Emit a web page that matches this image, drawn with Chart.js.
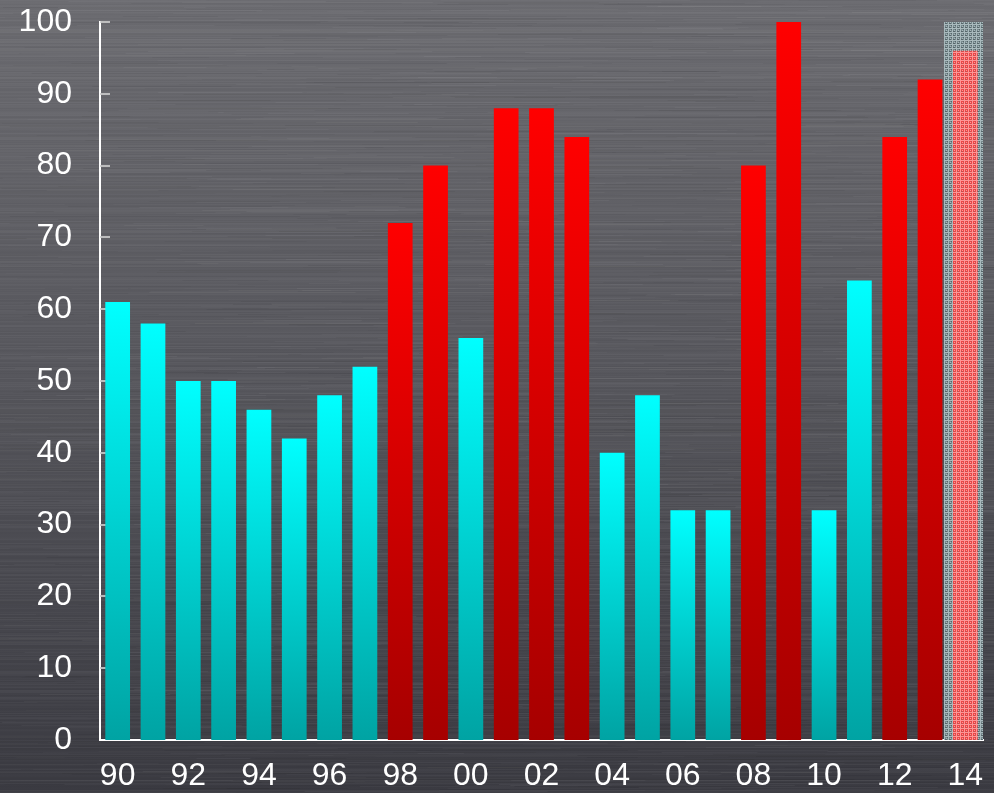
<!DOCTYPE html>
<html>
<head>
<meta charset="utf-8">
<style>
  html, body { margin: 0; padding: 0; background: #4a4a50; }
  #wrap { width: 994px; height: 793px; position: relative; }
</style>
<script src="https://cdn.jsdelivr.net/npm/chart.js@4/dist/chart.umd.min.js"></script>
</head>
<body>
<div id="wrap"><canvas id="chart"></canvas></div>
<script>
// Years 1990–2014 (two-digit labels)
const years = ['90','91','92','93','94','95','96','97','98','99',
               '00','01','02','03','04','05','06','07','08','09',
               '10','11','12','13','14'];
// Yearly index values
const values = [61, 58, 50, 50, 46, 42, 48, 52, 72, 80,
                56, 88, 88, 84, 40, 48, 32, 32, 80, 100,
                32, 64, 84, 92, 96];
// Years shown in red (high years)
const highYears = ['98','99','01','02','03','08','09','12','13'];
// Projected year, drawn with a shaded frame
const projectedYear = '14';
const projectedFrame = 100;
const yTicks = [0, 10, 20, 30, 40, 50, 60, 70, 80, 90, 100];

// Small canvas tiles used as fill patterns
function makePattern(base, light, dark) {
  const t = document.createElement('canvas');
  t.width = 4; t.height = 4;
  const c = t.getContext('2d');
  c.fillStyle = base; c.fillRect(0, 0, 4, 4);
  c.fillStyle = light;
  c.fillRect(0, 0, 4, 1);
  c.fillRect(0, 0, 1, 4);
  c.fillRect(2, 2, 1, 1);
  c.fillStyle = dark;
  c.fillRect(3, 1, 1, 1);
  c.fillRect(1, 3, 1, 1);
  c.fillRect(2, 3, 1, 1);
  return document.createElement('canvas').getContext('2d').createPattern(t, 'repeat');
}
const framePattern = makePattern('#788a8e', '#a9babd', '#56666a');
const projectedPattern = makePattern('#f24646', '#ff9595', '#c35050');

// Bar fill: vertical gradient per bar, from the bar top down to zero
function barFill(ctx) {
  if (ctx.type !== 'data') return undefined;
  const chart = ctx.chart;
  const label = years[ctx.dataIndex];
  if (label === projectedYear) return projectedPattern;
  if (!chart.chartArea) return highYears.includes(label) ? '#e00000' : '#00e0e0';
  const y = chart.scales.y;
  const top = y.getPixelForValue(ctx.raw);
  const bottom = y.getPixelForValue(0);
  const g = chart.ctx.createLinearGradient(0, top, 0, bottom);
  if (highYears.includes(label)) {
    g.addColorStop(0, '#ff0000');
    g.addColorStop(1, '#a60000');
  } else {
    g.addColorStop(0, '#00ffff');
    g.addColorStop(1, '#00a3a3');
  }
  return g;
}

// Brushed-metal backdrop with horizontal streaks (seeded, repeatable)
function seeded(seed) {
  let s = seed >>> 0;
  return () => { s = (s * 1664525 + 1013904223) >>> 0; return s / 4294967296; };
}
const brushedBackground = {
  id: 'brushedBackground',
  beforeDraw(chart) {
    const c = chart.ctx, W = chart.width, H = chart.height;
    c.save();
    const g = c.createLinearGradient(0, 0, 0, H);
    g.addColorStop(0, '#6d6d72');
    g.addColorStop(0.5, '#56565c');
    g.addColorStop(1, '#3b3b42');
    c.fillStyle = g;
    c.fillRect(0, 0, W, H);
    const rnd = seeded(1234);
    for (let y = 0; y < H; y++) {
      const a = (rnd() - 0.5) * 0.07;
      c.fillStyle = a > 0 ? `rgba(255,255,255,${a})` : `rgba(0,0,0,${-a})`;
      c.fillRect(0, y, W, 1);
      for (let k = 0; k < 4; k++) {
        const x0 = rnd() * W, len = 40 + rnd() * 260, b = (rnd() - 0.5) * 0.09;
        c.fillStyle = b > 0 ? `rgba(255,255,255,${b})` : `rgba(0,0,0,${-b})`;
        c.fillRect(x0, y, len, 1);
      }
    }
    c.restore();
  }
};

// Short inward tick marks on the value axis, behind the bars
const innerTicks = {
  id: 'innerTicks',
  beforeDatasetsDraw(chart) {
    const y = chart.scales.y, c = chart.ctx, left = chart.chartArea.left;
    c.save();
    c.strokeStyle = 'rgba(205,205,205,0.85)';
    c.lineWidth = 2;
    yTicks.forEach(v => {
      if (v === 0) return;
      const py = Math.round(y.getPixelForValue(v));
      c.beginPath();
      c.moveTo(left, py);
      c.lineTo(left + 10, py);
      c.stroke();
    });
    c.restore();
  }
};

const frameData = years.map(l => l === projectedYear ? projectedFrame : null);

new Chart(document.getElementById('chart'), {
  type: 'bar',
  data: {
    labels: years,
    datasets: [
      {
        data: values,
        backgroundColor: barFill,
        borderWidth: 0,
        barPercentage: 0.7,
        categoryPercentage: 1.0,
        grouped: false,
        order: 0
      },
      {
        data: frameData,
        backgroundColor: framePattern,
        borderWidth: 0,
        barThickness: 42,
        grouped: false,
        order: 1
      }
    ]
  },
  options: {
    responsive: true,
    maintainAspectRatio: false,
    animation: false,
    layout: { padding: { top: 22, right: 11, left: 0, bottom: 0 } },
    plugins: { legend: { display: false }, tooltip: { enabled: false } },
    scales: {
      x: {
        z: 1,
        grid: { display: false, drawTicks: false },
        border: { display: true, color: '#ffffff', width: 2 },
        ticks: {
          color: '#ffffff',
          font: { family: 'Liberation Sans', size: 32 },
          padding: 17,
          autoSkip: false,
          maxRotation: 0,
          callback: function (v, i) { return i % 2 === 0 ? years[i] : ''; }
        },
        afterFit(scale) {
          scale.height = 53;
          scale.paddingLeft = 0;
          scale.paddingRight = 0;
        }
      },
      y: {
        z: 1,
        min: 0,
        max: 100,
        afterBuildTicks(scale) { scale.ticks = yTicks.map(v => ({ value: v })); },
        grid: { display: false, drawTicks: false },
        border: { display: true, color: '#ffffff', width: 2 },
        ticks: {
          color: '#ffffff',
          font: { family: 'Liberation Sans', size: 32 },
          padding: 28
        },
        afterFit(scale) {
          scale.width = 100;
          scale.paddingTop = 0;
          scale.paddingBottom = 0;
        }
      }
    }
  },
  plugins: [brushedBackground, innerTicks]
});
</script>
</body>
</html>
